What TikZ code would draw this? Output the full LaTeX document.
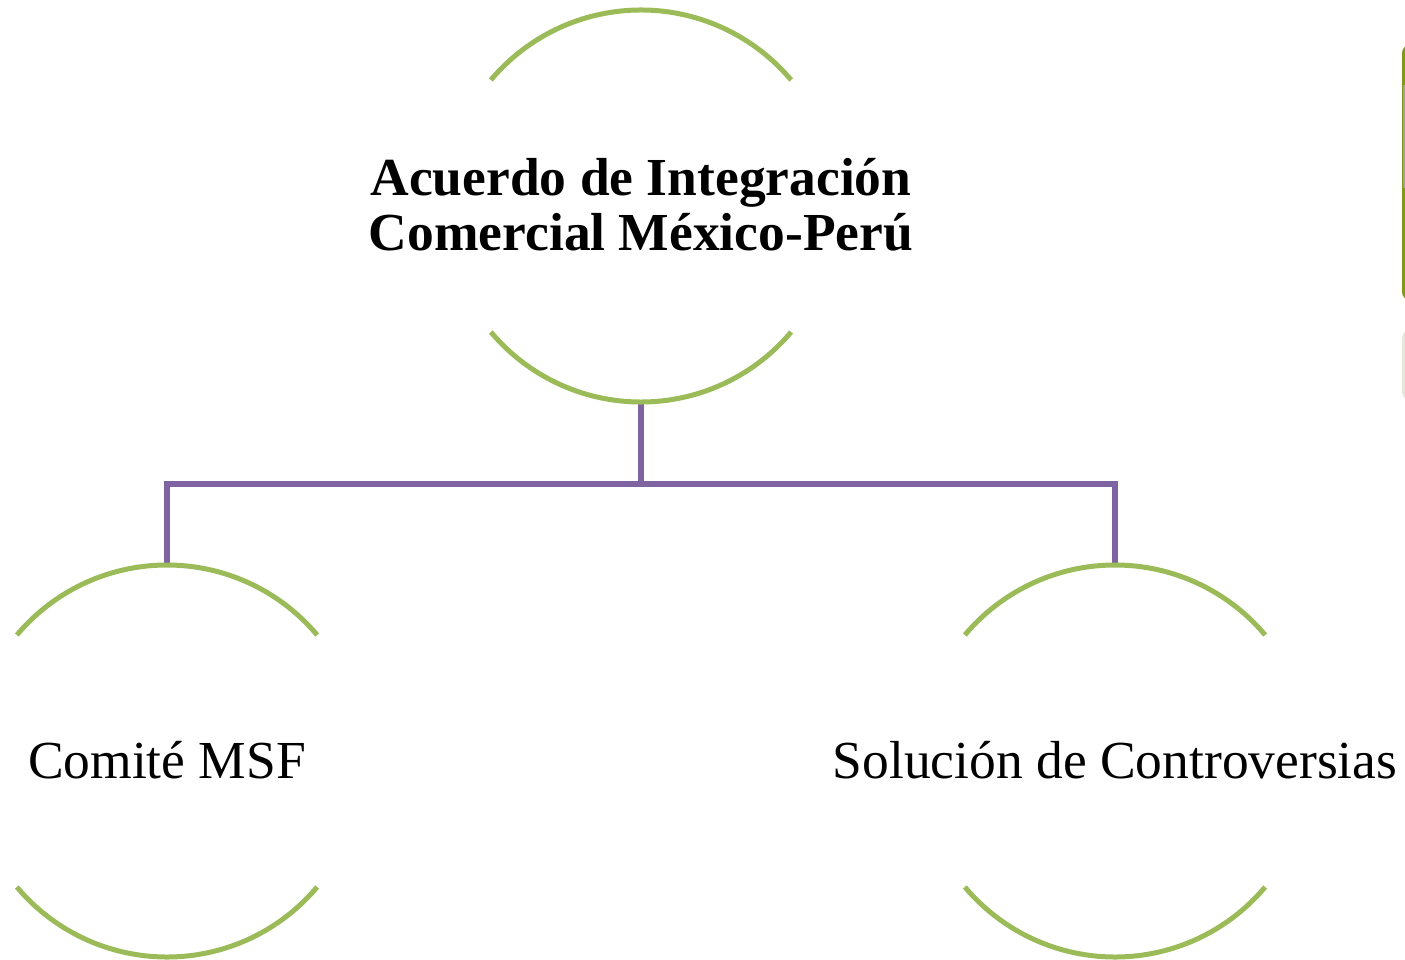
\documentclass[tikz,border=0pt]{standalone}
\usepackage{fontspec}
\setmainfont{Liberation Serif}
\definecolor{arcgreen}{HTML}{9BBB59}
\definecolor{linkpurple}{HTML}{8064A2}
\definecolor{edgeolive}{HTML}{7F9A1A}
\definecolor{edgegrey}{HTML}{A0A0A0}
\definecolor{edgefaint}{HTML}{E6E8DA}
\begin{document}
\begin{tikzpicture}[x=1pt,y=-1pt,
  arc/.style={draw=arcgreen,line width=5pt},
  link/.style={draw=linkpurple,line width=5.5pt},
  ring/.style={circle,minimum size=392pt,inner sep=0pt,draw=none},
  title/.style={font=\bfseries\fontsize{53.5}{55}\selectfont,align=center,inner sep=0pt},
  label/.style={font=\fontsize{53.5}{56}\selectfont,inner sep=0pt}]
\useasboundingbox (0,0) rectangle (1405,960);
% ring outlines (invisible) used as connector anchors
\node[ring] (top) at (641,206) {};
\node[ring] (left) at (167,761) {};
\node[ring] (right) at (1115,761) {};
% texts
\node[title] (ttop) at (641,205) {Acuerdo de Integración\\Comercial México-Perú};
\node[label] (tleft) at (167,760) {Comité MSF};
\node[label] (tright) at (1115,760) {Solución de Controversias};
% connectors
\coordinate (bus) at (641,484);
\draw[link] (top.south) -- (bus) -| (left.north);
\draw[link] (bus) -| (right.north);
% visible arcs
\foreach \n in {top,left,right}{
  \draw[arc] ([shift={(220:196)}]\n.center) arc[start angle=220,end angle=320,radius=196];
  \draw[arc] ([shift={(140:196)}]\n.center) arc[start angle=140,end angle=40,radius=196];
}
% cropped shape at right edge
\fill[edgeolive,rounded corners=8pt] (1402,45) rectangle (1440,300);
\fill[edgegrey] (1403,85) rectangle (1440,188);
\fill[edgefaint,rounded corners=8pt] (1402,330) rectangle (1440,400);
\end{tikzpicture}
\end{document}
